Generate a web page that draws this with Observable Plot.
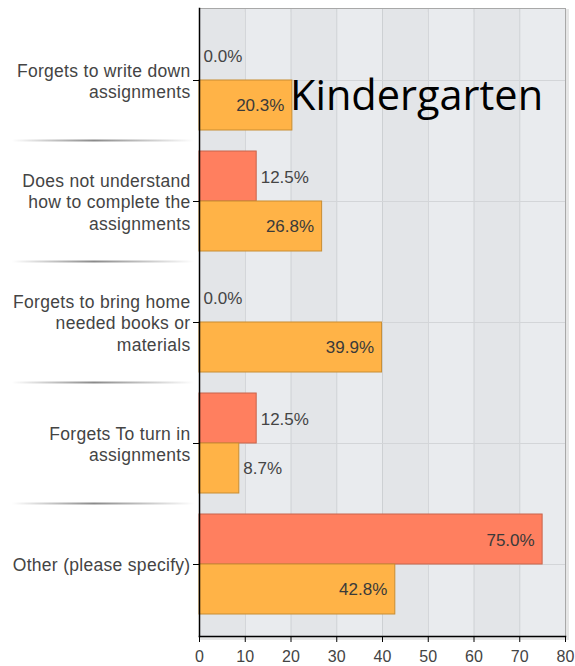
<!DOCTYPE html>
<html><head><meta charset="utf-8">
<script src="https://cdn.jsdelivr.net/npm/d3@7"></script>
<script src="https://cdn.jsdelivr.net/npm/@observablehq/plot@0.6"></script>
<style>
body{margin:0;background:#fff;}
#wrap{position:relative;width:575px;height:666px;overflow:hidden;}
#title{position:absolute;left:290px;top:74px;font-family:"Open Sans",sans-serif;font-size:41.5px;line-height:1;color:#000;white-space:nowrap;}
</style></head><body>
<div id="wrap"><div id="chart"></div><div id="title">Kindergarten</div></div>
<script>
const categories = [
  "Forgets to write down\nassignments",
  "Does not understand\nhow to complete the\nassignments",
  "Forgets to bring home\nneeded books or\nmaterials",
  "Forgets To turn in\nassignments",
  "Other (please specify)"
];
const seriesRed = [0.0, 12.5, 0.0, 12.5, 75.0];
const seriesOrange = [20.3, 26.8, 39.9, 8.7, 42.8];
const xTicks = [0, 10, 20, 30, 40, 50, 60, 70, 80];

const W = 575, H = 666, mL = 199, mR = 10, mT = 8, mB = 30;
const pIn = 0.177, pOut = 0.173;
const step = (H - mT - mB) / (categories.length - pIn + 2 * pOut);
const bw = step * (1 - pIn);
const half = bw / 2;

const red = categories.map((c, i) => ({cat: c, value: seriesRed[i]}));
const orange = categories.map((c, i) => ({cat: c, value: seriesOrange[i]}));
const bands = d3.pairs(xTicks).map(([a, b], i) => ({x1: a, x2: b, k: i % 2}));
const font = "Liberation Sans, Arial, sans-serif";
const pct = d => d.value.toFixed(1) + "%";
const inside = d => d.value >= 15;

const chart = Plot.plot({
  width: W, height: H,
  marginLeft: mL, marginRight: mR, marginTop: mT, marginBottom: mB,
  style: {fontFamily: font, background: "#fff"},
  x: {domain: [0, 80]},
  y: {domain: categories, paddingInner: pIn, paddingOuter: pOut},
  marks: [
    Plot.frame({dx: 2, dy: 2, stroke: "#e6e6e6", strokeWidth: 3}),
    Plot.rect(bands, {x1: "x1", x2: "x2", fill: d => d.k ? "#e9ebee" : "#e3e5e8"}),
    Plot.gridX(xTicks, {stroke: "#cdd0d3", strokeOpacity: 1}),
    Plot.gridY(categories, {stroke: "#d3d5d8", strokeOpacity: 1}),
    Plot.barX(red.filter(d => d.value > 0), {y: "cat", x: "value", insetBottom: half, fill: "#ff7f5f", stroke: "#c8654c", strokeWidth: 1}),
    Plot.barX(orange.filter(d => d.value > 0), {y: "cat", x: "value", insetTop: half, fill: "#ffb347", stroke: "#c88d32", strokeWidth: 1}),
    Plot.text(red.filter(d => !inside(d)), {y: "cat", x: "value", dy: -half / 2 + 1, dx: 4, text: pct, textAnchor: "start", fontSize: 17, fill: "#444"}),
    Plot.text(red.filter(inside), {y: "cat", x: "value", dy: -half / 2 + 1, dx: -8, text: pct, textAnchor: "end", fontSize: 17, fill: "#3a3a3a"}),
    Plot.text(orange.filter(d => !inside(d)), {y: "cat", x: "value", dy: half / 2, dx: 4, text: pct, textAnchor: "start", fontSize: 17, fill: "#444"}),
    Plot.text(orange.filter(inside), {y: "cat", x: "value", dy: half / 2, dx: -8, text: pct, textAnchor: "end", fontSize: 17, fill: "#3a3a3a"}),
    Plot.frame({stroke: "#a8a8a8"}),
    Plot.frame({anchor: "bottom", stroke: "#000", strokeWidth: 1.5}),
    Plot.frame({anchor: "left", stroke: "#000", strokeWidth: 1.5}),
    Plot.axisX(xTicks, {tickSize: 6, tickPadding: 8, fontSize: 16, stroke: "#000", fill: "#444", label: null}),
    Plot.axisY(categories, {tickSize: 6, tickPadding: 3, fontSize: 17.5, lineHeight: 1.23, stroke: "#000", fill: "#444", label: null, lineWidth: 100})
  ]
});
document.getElementById("chart").appendChild(chart);

const svg = d3.select(chart);
svg.selectAll('g[aria-label="y-axis tick label"] text').style("letter-spacing", "0.3px");

// separators between categories in the left label area
const ys = chart.scale("y");
const defs = svg.append("defs");
const grad = defs.append("linearGradient").attr("id", "sepg").attr("x1", "0%").attr("x2", "100%");
grad.append("stop").attr("offset", "0%").attr("stop-color", "#fff");
grad.append("stop").attr("offset", "45%").attr("stop-color", "#8a8a8a");
grad.append("stop").attr("offset", "100%").attr("stop-color", "#fff");
for (let i = 0; i < categories.length - 1; i++) {
  const y = (ys.apply(categories[i]) + ys.bandwidth + ys.apply(categories[i + 1])) / 2;
  svg.append("rect").attr("x", 12).attr("y", y - 1).attr("width", 182).attr("height", 2).attr("fill", "url(#sepg)");
}
</script>
</body></html>
